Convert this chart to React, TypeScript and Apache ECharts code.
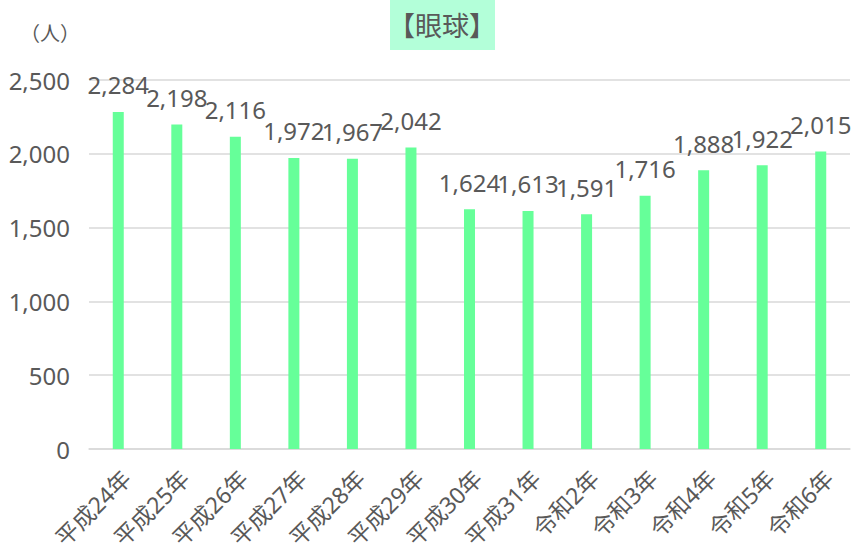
import React, { useEffect, useRef } from "react";
import * as echarts from "echarts";

const categories = ["平成24年", "平成25年", "平成26年", "平成27年", "平成28年", "平成29年", "平成30年", "平成31年", "令和2年", "令和3年", "令和4年", "令和5年", "令和6年"];
const values = [2284, 2198, 2116, 1972, 1967, 2042, 1624, 1613, 1591, 1716, 1888, 1922, 2015];
const yTicks = { min: 0, max: 2500, interval: 500 };

const FONT = "'Noto Sans', 'Noto Sans CJK JP', sans-serif";
const TXT = "#595959";

export default function App() {
  const ref = useRef<HTMLDivElement>(null);
  useEffect(() => {
    const chart = echarts.init(ref.current!, null, { renderer: "svg" });
    chart.setOption({
      animation: false,
      textStyle: { fontFamily: FONT },
      graphic: [
        { type: "rect", left: 390, top: 0, shape: { width: 105, height: 50 }, style: { fill: "#B3FFD9" } },
        { type: "text", x: 442, y: 25, style: { text: "【眼球】", fontSize: 27, fill: TXT, fontFamily: FONT, align: "center", verticalAlign: "middle" } },
        { type: "text", x: 50, y: 33, style: { text: "（人）", fontSize: 20, fill: TXT, fontFamily: FONT, align: "center", verticalAlign: "middle" } },
      ],
      grid: { left: 89, right: 8, top: 80, bottom: 108, containLabel: false, outerBoundsMode: "none" },
      xAxis: {
        type: "category",
        data: categories,
        axisLine: { lineStyle: { color: "#D9D9D9", width: 1.5 } },
        axisTick: { show: false },
        axisLabel: { rotate: 45, color: TXT, fontSize: 23, margin: 17, interval: 0, fontFamily: FONT, verticalAlign: "top" },
      },
      yAxis: {
        type: "value",
        min: yTicks.min,
        max: yTicks.max,
        interval: yTicks.interval,
        axisLine: { show: false },
        axisTick: { show: false },
        splitLine: { lineStyle: { color: "#D9D9D9", width: 1.5 } },
        axisLabel: {
          color: TXT,
          fontSize: 24,
          margin: 19,
          fontFamily: FONT,
          formatter: (v: number) => v.toLocaleString("en-US"),
        },
      },
      series: [
        {
          type: "bar",
          data: values,
          barWidth: 11,
          itemStyle: { color: "#66FF99" },
          label: {
            show: true,
            position: "top",
            distance: 15,
            color: TXT,
            fontSize: 24,
            fontFamily: FONT,
            formatter: (p: any) => Number(p.value).toLocaleString("en-US"),
          },
        },
      ],
    });
    return () => chart.dispose();
  }, []);
  return <div ref={ref} style={{ width: 858, height: 557, position: "absolute", left: 0, top: 0 }} />;
}
